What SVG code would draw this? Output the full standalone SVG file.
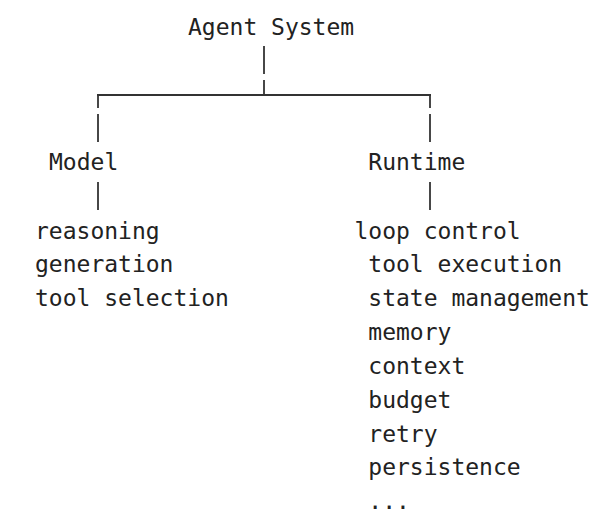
<svg xmlns="http://www.w3.org/2000/svg" width="612" height="521" viewBox="0 0 612 521">
<style>
text{font-family:"DejaVu Sans Mono","Liberation Mono",monospace;font-size:23px;fill:#222}
.c line{stroke:#333;stroke-width:1.8;fill:none}
</style>
<rect width="612" height="521" fill="#fff"/>
<g class="c" id="connectors">
<line x1="264" y1="46" x2="264" y2="74"/>
<line x1="264" y1="80" x2="264" y2="95"/>
<line x1="97" y1="95" x2="431" y2="95"/>
<line x1="98" y1="95" x2="98" y2="108"/>
<line x1="430" y1="95" x2="430" y2="108"/>
<line x1="98" y1="114" x2="98" y2="142"/>
<line x1="430" y1="114" x2="430" y2="142"/>
<line x1="98" y1="182" x2="98" y2="210"/>
<line x1="430" y1="182" x2="430" y2="210"/>
</g>
<g id="agent-system"><text x="188" y="34.5">Agent System</text></g>
<g id="model"><text x="49" y="170.3">Model</text></g>
<g id="runtime"><text x="368.3" y="170.3">Runtime</text></g>
<g id="model-items">
<text x="35" y="238.5">reasoning</text>
<text x="35" y="272.2">generation</text>
<text x="35" y="306">tool selection</text>
</g>
<g id="runtime-items">
<text x="354.5" y="238.5">loop control</text>
<text x="368.3" y="272.2">tool execution</text>
<text x="368.3" y="306">state management</text>
<text x="368.3" y="340">memory</text>
<text x="368.3" y="373.8">context</text>
<text x="368.3" y="407.7">budget</text>
<text x="368.3" y="441.5">retry</text>
<text x="368.3" y="475.4">persistence</text>
<text x="368.3" y="509.2">...</text>
</g>
</svg>
